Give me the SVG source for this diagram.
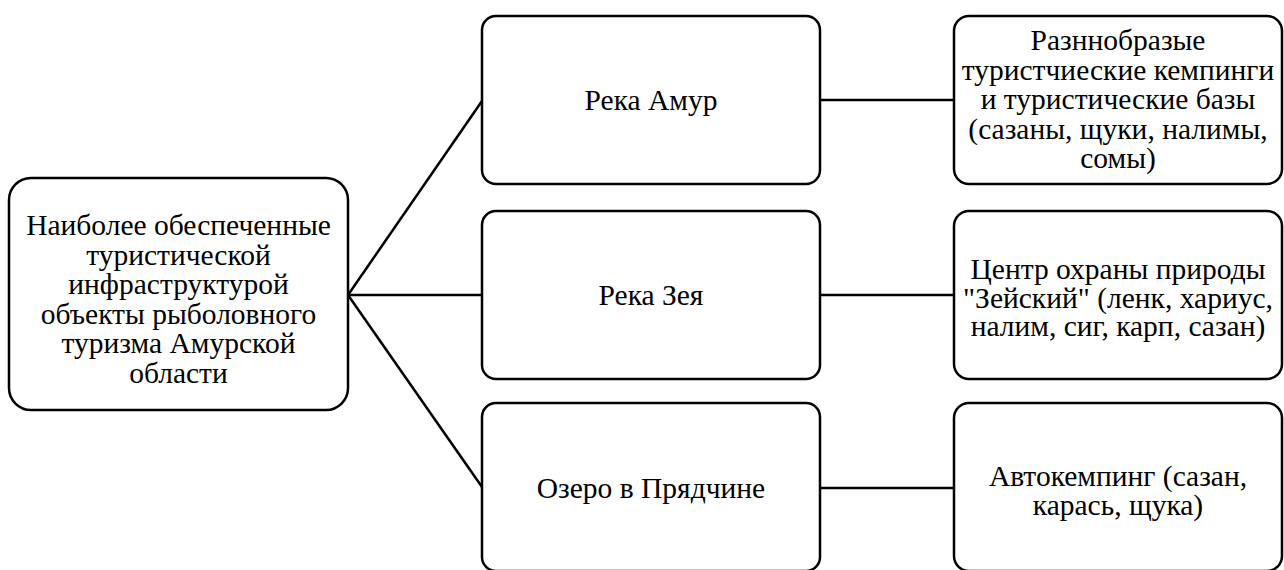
<svg xmlns="http://www.w3.org/2000/svg" width="1284" height="570" viewBox="0 0 1284 570">
<style>
.box{fill:#fff;stroke:#000;stroke-width:2.5}
.ln{stroke:#000;stroke-width:2.5;fill:none}
.t{fill:#000;text-anchor:middle}
</style>
<rect width="1284" height="570" fill="#fff"/>
<g id="connectors">
<line class="ln" x1="348" y1="295" x2="482" y2="101"/>
<line class="ln" x1="348" y1="295" x2="482" y2="295"/>
<line class="ln" x1="348" y1="295" x2="482" y2="487"/>
<line class="ln" x1="820" y1="100" x2="954" y2="100"/>
<line class="ln" x1="820" y1="295" x2="954" y2="295"/>
<line class="ln" x1="820" y1="488" x2="954" y2="488"/>
</g>
<g font-family="Liberation Serif" font-size="29.5">
<g id="root">
<rect class="box" x="9" y="178" width="339" height="232" rx="22"/>
<text class="t" x="178.5" y="235">Наиболее обеспеченные</text>
<text class="t" x="178.5" y="264.5">туристической</text>
<text class="t" x="178.5" y="294">инфраструктурой</text>
<text class="t" x="178.5" y="323.5">объекты рыболовного</text>
<text class="t" x="178.5" y="353">туризма Амурской</text>
<text class="t" x="178.5" y="382.5">области</text>
</g>
<g id="amur">
<rect class="box" x="482" y="16" width="338" height="168" rx="14"/>
<text class="t" x="651" y="110">Река Амур</text>
</g>
<g id="zeya">
<rect class="box" x="482" y="211" width="338" height="168" rx="14"/>
<text class="t" x="651" y="305">Река Зея</text>
</g>
<g id="lake">
<rect class="box" x="482" y="403" width="338" height="168" rx="14"/>
<text class="t" x="651" y="498">Озеро в Прядчине</text>
</g>
<g id="amur-info">
<rect class="box" x="954" y="16" width="328" height="168" rx="15"/>
<text class="t" x="1118" y="50">Разннобразые</text>
<text class="t" x="1118" y="79.5">туристчиеские кемпинги</text>
<text class="t" x="1118" y="109">и туристические базы</text>
<text class="t" x="1118" y="138.5">(сазаны, щуки, налимы,</text>
<text class="t" x="1118" y="168">сомы)</text>
</g>
<g id="zeya-info">
<rect class="box" x="954" y="211" width="328" height="168" rx="15"/>
<text class="t" x="1118" y="279">Центр охраны природы</text>
<text class="t" x="1118" y="307.5">"Зейский" (ленк, хариус,</text>
<text class="t" x="1118" y="336">налим, сиг, карп, сазан)</text>
</g>
<g id="lake-info">
<rect class="box" x="954" y="403" width="328" height="168" rx="15"/>
<text class="t" x="1118" y="486">Автокемпинг (сазан,</text>
<text class="t" x="1118" y="515">карась, щука)</text>
</g>
</g>
</svg>
